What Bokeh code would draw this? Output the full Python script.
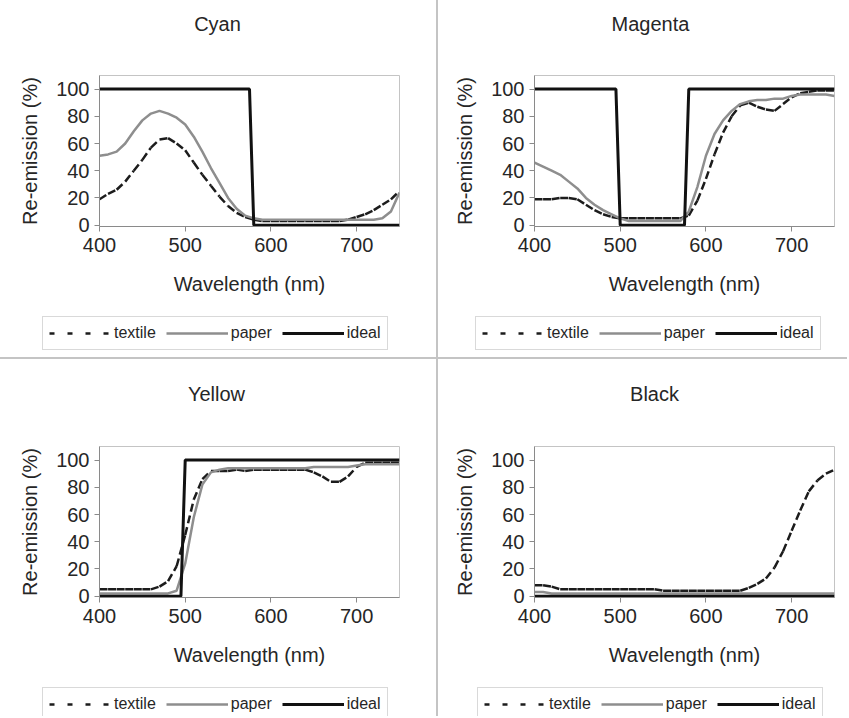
from bokeh.plotting import figure
from bokeh.layouts import row, column
from bokeh.models import Legend, LegendItem, Range1d, Label
from bokeh.embed import file_html
from bokeh.resources import INLINE

# ---------------- data ----------------
WL = [400, 410, 420, 430, 440, 450, 460, 470, 480, 490, 500, 510, 520, 530, 540, 550, 560, 570,
      580, 590, 600, 610, 620, 630, 640, 650, 660, 670, 680, 690, 700, 710, 720, 730, 740, 750]

CYAN_TEXTILE = [19, 23, 26, 32, 40, 48, 57, 63, 64, 60, 55, 46, 37, 29, 21, 14, 9, 6,
                4, 3, 3, 3, 3, 3, 3, 3, 3, 3, 3, 4, 6, 8, 11, 15, 19, 25]
CYAN_PAPER = [51, 52, 54, 60, 69, 77, 82, 84, 82, 79, 74, 65, 54, 42, 31, 20, 12, 7,
              5, 4, 4, 4, 4, 4, 4, 4, 4, 4, 4, 4, 4, 4, 4, 5, 10, 24]
CYAN_IDEAL_WL = [400, 575, 580, 750]
CYAN_IDEAL = [100, 100, 0, 0]

MAGENTA_TEXTILE = [19, 19, 19, 20, 20, 19, 15, 11, 8, 6, 5, 5, 5, 5, 5, 5, 5, 5,
                   7, 18, 34, 52, 68, 80, 88, 90, 87, 85, 84, 89, 94, 97, 98, 99, 99, 99]
MAGENTA_PAPER = [46, 43, 40, 37, 32, 27, 20, 15, 11, 8, 5, 3, 3, 3, 3, 3, 3, 3,
                 10, 28, 51, 67, 77, 84, 89, 91, 92, 92, 93, 93, 95, 96, 96, 96, 96, 95]
MAGENTA_IDEAL_WL = [400, 495, 500, 575, 580, 750]
MAGENTA_IDEAL = [100, 100, 0, 0, 100, 100]

YELLOW_TEXTILE = [5, 5, 5, 5, 5, 5, 5, 7, 11, 22, 45, 71, 86, 92, 92, 92, 93, 92,
                  93, 93, 93, 93, 93, 93, 93, 91, 88, 84, 84, 88, 95, 98, 98, 98, 98, 98]
YELLOW_PAPER = [2, 2, 2, 2, 2, 2, 2, 2, 2, 4, 24, 58, 82, 91, 93, 94, 94, 94,
                94, 94, 94, 94, 94, 94, 94, 95, 95, 95, 95, 95, 96, 97, 97, 97, 97, 97]
YELLOW_IDEAL_WL = [400, 495, 500, 750]
YELLOW_IDEAL = [0, 0, 100, 100]

BLACK_TEXTILE = [8, 8, 7, 5, 5, 5, 5, 5, 5, 5, 5, 5, 5, 5, 5, 4, 4, 4,
                 4, 4, 4, 4, 4, 4, 4, 6, 9, 13, 21, 33, 48, 63, 77, 85, 90, 93]
BLACK_PAPER = [3, 3, 2, 2, 2, 2, 2, 2, 2, 2, 2, 2, 2, 2, 2, 2, 2, 2,
               2, 2, 2, 2, 2, 2, 2, 2, 2, 2, 2, 2, 2, 2, 2, 2, 2, 2]
BLACK_IDEAL_WL = [400, 750]
BLACK_IDEAL = [0, 0]

X_TICKS = [400, 500, 600, 700]
Y_TICKS = [0, 20, 40, 60, 80, 100]
SERIES_NAMES = ["textile", "paper", "ideal"]

FONT = "Liberation Sans"
TEXT = "#262626"
FW, FH = 300, 151
TEXTILE_STYLE = dict(line_color="#1c1c1c", line_width=2.5)
PAPER_STYLE = dict(line_color="#8e8e8e", line_width=2.5)
IDEAL_STYLE = dict(line_color="#111111", line_width=3)
WHITE = {"background-color": "white"}


def strip(w, h, xr, yr):
    # a frame-only figure (no axes, no borders) used for titles and legends
    s = figure(width=w, height=h, output_backend="svg", toolbar_location=None,
               x_range=xr, y_range=yr,
               x_axis_location=None, y_axis_location=None, min_border=0,
               min_border_left=0, min_border_right=0, min_border_top=0, min_border_bottom=0,
               background_fill_color="white", border_fill_color="white")
    s.frame_align = False
    s.xgrid.visible = False
    s.ygrid.visible = False
    s.outline_line_color = None
    return s


def title_strip(text, w, h, cx, cy):
    s = strip(w, h, Range1d(0, w), Range1d(0, h))
    s.add_layout(Label(x=cx, y=cy, text=text, text_align="center", text_baseline="middle",
                       text_font=FONT, text_font_size="20px", text_color=TEXT))
    return s


def chart(textile, paper, ideal_wl, ideal, w, h, bl, bt):
    p = figure(width=w, height=h, output_backend="svg", toolbar_location=None,
               x_range=Range1d(400, 750), y_range=Range1d(-1, 110),
               min_border_left=bl, min_border_right=w - bl - FW,
               min_border_top=bt, min_border_bottom=h - bt - FH,
               background_fill_color="white", border_fill_color="white")
    p.frame_align = False
    p.xgrid.visible = False
    p.ygrid.visible = False
    p.outline_line_color = "#c4c4c4"

    p.xaxis.ticker = X_TICKS
    p.yaxis.ticker = Y_TICKS
    p.xaxis.axis_label = "Wavelength (nm)"
    p.yaxis.axis_label = "Re-emission (%)"
    for ax in (p.xaxis[0], p.yaxis[0]):
        ax.axis_line_color = "#8a8a8a"
        ax.major_tick_line_color = "#8a8a8a"
        ax.major_tick_out = 5
        ax.major_tick_in = 0
        ax.minor_tick_line_color = None
        ax.major_label_text_font = FONT
        ax.major_label_text_font_size = "20px"
        ax.major_label_text_color = TEXT
        ax.axis_label_text_font = FONT
        ax.axis_label_text_font_size = "20px"
        ax.axis_label_text_font_style = "normal"
        ax.axis_label_text_color = TEXT
    p.xaxis.major_label_standoff = 6
    p.xaxis.axis_label_standoff = 18
    p.yaxis.major_label_standoff = 5
    p.yaxis.axis_label_standoff = 12

    # textile: each segment drawn on its own so the dash restarts at every point
    seg_x = [[WL[i], WL[i + 1]] for i in range(len(WL) - 1)]
    seg_y = [[textile[i], textile[i + 1]] for i in range(len(WL) - 1)]
    p.multi_line(seg_x, seg_y, line_dash="8 4", **TEXTILE_STYLE)
    p.line(WL, paper, **PAPER_STYLE)
    p.line(ideal_wl, ideal, **IDEAL_STYLE)
    return p


def legend_strip(w, h, xy, textile, paper, ideal_wl, ideal):
    # ranges far from the data: the sample renderers stay out of view
    lf = strip(w, h, Range1d(-2, -1), Range1d(-2, -1))
    r1 = lf.line(WL, textile, line_dash="5 13", **TEXTILE_STYLE)
    r2 = lf.line(WL, paper, **PAPER_STYLE)
    r3 = lf.line(ideal_wl, ideal, **IDEAL_STYLE)
    leg = Legend(items=[LegendItem(label=SERIES_NAMES[0], renderers=[r1]),
                        LegendItem(label=SERIES_NAMES[1], renderers=[r2]),
                        LegendItem(label=SERIES_NAMES[2], renderers=[r3])],
                 location=xy, orientation="horizontal",
                 glyph_width=62, glyph_height=20, label_standoff=3, spacing=10,
                 padding=6, margin=0, label_text_font=FONT, label_text_font_size="16px",
                 label_text_color=TEXT, border_line_color="#b4b4b4",
                 background_fill_color="white", background_fill_alpha=1.0)
    lf.add_layout(leg)
    return lf


def quadrant(title, textile, paper, ideal_wl, ideal, w, bl, title_h, title_cx, title_cy,
             chart_h, bt, leg_h, leg_xy):
    t = title_strip(title, w, title_h, title_cx, title_cy)
    c = chart(textile, paper, ideal_wl, ideal, w, chart_h, bl, bt)
    l = legend_strip(w, leg_h, leg_xy, textile, paper, ideal_wl, ideal)
    return column(t, c, l, spacing=0, styles=WHITE)


q1 = quadrant("Cyan", CYAN_TEXTILE, CYAN_PAPER, CYAN_IDEAL_WL, CYAN_IDEAL,
              436, 99, 40, 217, 17, 262, 35, 55, (42, 7))
q2 = quadrant("Magenta", MAGENTA_TEXTILE, MAGENTA_PAPER, MAGENTA_IDEAL_WL, MAGENTA_IDEAL,
              409, 96, 40, 212, 17, 262, 35, 55, (37, 7))
q3 = quadrant("Yellow", YELLOW_TEXTILE, YELLOW_PAPER, YELLOW_IDEAL_WL, YELLOW_IDEAL,
              436, 99, 56, 216, 22, 255, 31, 46, (42, -5))
q4 = quadrant("Black", BLACK_TEXTILE, BLACK_PAPER, BLACK_IDEAL_WL, BLACK_IDEAL,
              409, 96, 56, 216, 22, 255, 31, 46, (39, -5))

SEP = {"background-color": "#c4c4c4"}
layout = column(row(q1, q2, spacing=2, styles=SEP),
                row(q3, q4, spacing=2, styles=SEP),
                spacing=2, styles=SEP)

open("out.html", "w").write(file_html(layout, INLINE))
